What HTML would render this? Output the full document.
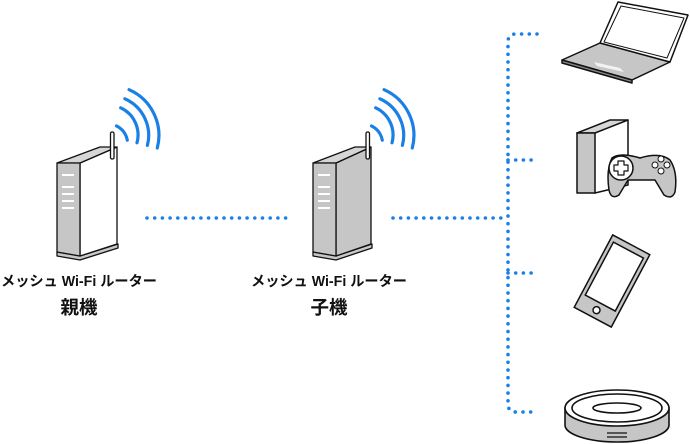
<!DOCTYPE html>
<html><head><meta charset="utf-8"><style>
html,body{margin:0;padding:0;background:#fff;}
svg{display:block;}
text{font-family:"Liberation Sans","Noto Sans CJK JP",sans-serif;fill:#111;}
</style></head><body>
<svg width="690" height="444" viewBox="0 0 690 444" xmlns="http://www.w3.org/2000/svg">
<defs>
<g id="waves" fill="none" stroke="#1a80e6" stroke-width="3.2" stroke-linecap="round">
  <path d="M116.5,125.9 A20,20 0 0 1 127.3,140.2"/>
  <path d="M120.7,107.8 A30,30 0 0 1 137.0,142.8"/>
  <path d="M124.9,98.8 A40,40 0 0 1 147.4,145.4"/>
  <path d="M129.1,89.7 A50,50 0 0 1 157.3,148.0"/>
</g>
</defs>
<!-- dotted connectors -->
<g fill="none" stroke="#1a80e6" stroke-width="3.6" stroke-linecap="round" stroke-dasharray="0 7.7">
  <path d="M147,218 H292"/>
  <path d="M393,218 H508"/>
  <path d="M537,34 H516 Q508,34 508,42 V404 Q508,412 516,412 H537"/>
  <path d="M508,160 H537"/>
  <path d="M508,273 H537"/>
</g>
<!-- Router 1 -->
<g stroke="#111" stroke-width="1.3" stroke-linejoin="round">
  <path d="M57,256 L80,260 L118,248 L118,244 L80,256 L57,252 Z" fill="#c8c8c8"/>
  <path d="M80,163 L117,147 L117,244 L80,256 Z" fill="#fff"/>
  <path d="M57,163 L100,147 L117,147 L80,163 Z" fill="#d6d6d6"/>
  <path d="M57,163 L80,163 L80,256 L57,252 Z" fill="#c6c6c6"/>
  <rect x="110.5" y="132" width="3.5" height="27" rx="1.5" fill="#fff"/>
</g>
<g fill="#fff"><rect x="62" y="174" width="12" height="2"/><rect x="62" y="186" width="12" height="2"/><rect x="62" y="193" width="12" height="2"/><rect x="62" y="200" width="12" height="2"/><rect x="62" y="207" width="12" height="2"/></g>
<use href="#waves" x="0" y="0"/>
<!-- Router 2 -->
<g stroke="#111" stroke-width="1.3" stroke-linejoin="round">
  <path d="M313,256 L336,260 L372,248 L372,244 L336,256 L313,252 Z" fill="#c8c8c8"/>
  <path d="M336,163 L371,147 L371,244 L336,256 Z" fill="#c6c6c6"/>
  <path d="M313,163 L355,147 L371,147 L336,163 Z" fill="#d6d6d6"/>
  <path d="M313,163 L336,163 L336,256 L313,252 Z" fill="#c6c6c6"/>
  <rect x="366" y="132" width="3.5" height="27" rx="1.5" fill="#fff"/>
</g>
<g fill="#fff"><rect x="318" y="174" width="12" height="2"/><rect x="318" y="186" width="12" height="2"/><rect x="318" y="193" width="12" height="2"/><rect x="318" y="200" width="12" height="2"/><rect x="318" y="207" width="12" height="2"/></g>
<use href="#waves" x="255" y="0"/>
<!-- labels -->
<text x="79" y="286" font-size="14.3" font-weight="bold" text-anchor="middle" textLength="156" lengthAdjust="spacingAndGlyphs">メッシュ Wi-Fi ルーター</text>
<text x="79" y="314" font-size="18.5" font-weight="bold" text-anchor="middle">親機</text>
<text x="329" y="286" font-size="14.3" font-weight="bold" text-anchor="middle" textLength="156" lengthAdjust="spacingAndGlyphs">メッシュ Wi-Fi ルーター</text>
<text x="329" y="314" font-size="18.5" font-weight="bold" text-anchor="middle">子機</text>
<!-- Laptop -->
<g stroke="#111" stroke-width="1.5" stroke-linejoin="round">
  <path d="M562,60 L600,43 L670,62 L632,80 Z" fill="#c6c6c6"/>
  <path d="M562,60 L632,80 L632,83 L562,63 Z" fill="#888"/>
  <path d="M618,2 L688,15 L670,62 L600,43 Z" fill="#fff"/>
  <path d="M621,6 L684,18 L667,58 L604,42 Z" fill="#fff" stroke-width="1"/>
  <path d="M594,62 L620,68 L624,72 L597,66 Z" fill="#f2f2f2" stroke="none"/>
</g>
<!-- Console + controller -->
<g stroke="#111" stroke-width="1.5" stroke-linejoin="round">
  <path d="M577,133 L628,120 L628,185 L595,193 Z" fill="#fff"/>
  <path d="M577,133 L610,120 L628,120 L595,133 Z" fill="#d6d6d6"/>
  <path d="M577,133 L595,133 L595,193 L577,193 Z" fill="#c6c6c6"/>
  <path d="M612,158 Q620,152 640,158 Q660,152 670,160 Q678,172 675,192 Q672,200 664,195 L655,180 L628,180 L619,195 Q611,200 609,190 Q606,170 612,158 Z" fill="#c6c6c6"/>
  <circle cx="621" cy="168" r="12" fill="#fff"/>
  <path d="M618,161 h6 v4 h4 v6 h-4 v4 h-6 v-4 h-4 v-6 h4 Z" fill="#fff" stroke-width="1.2"/>
  <circle cx="661" cy="159" r="3" fill="#fff" stroke-width="1"/>
  <circle cx="661" cy="171" r="3" fill="#fff" stroke-width="1"/>
  <circle cx="655" cy="165" r="3" fill="#fff" stroke-width="1"/>
  <circle cx="667" cy="165" r="3" fill="#fff" stroke-width="1"/>
</g>
<!-- Phone -->
<g transform="translate(612,281) rotate(28)" stroke="#111" stroke-width="1.5">
  <rect x="-21" y="-41" width="42" height="82" fill="#c6c6c6"/>
  <rect x="-17" y="-35" width="34" height="60" fill="#fff"/>
  <circle cx="0" cy="33" r="3.5" fill="#fff"/>
</g>
<!-- Robot vacuum -->
<g stroke="#111" stroke-width="1.6">
  <path d="M565,408 L565,425 A52,17 0 0 0 669,425 L669,408 Z" fill="#c6c6c6"/>
  <ellipse cx="617" cy="408" rx="52" ry="18" fill="#fff"/>
  <ellipse cx="617" cy="408" rx="45" ry="14" fill="#fff"/>
  <ellipse cx="617" cy="408" rx="24" ry="5" fill="#fff"/>
  <path d="M607,433 h20 M607,437 h20" stroke-width="1.3"/>
</g>
</svg>
</body></html>
